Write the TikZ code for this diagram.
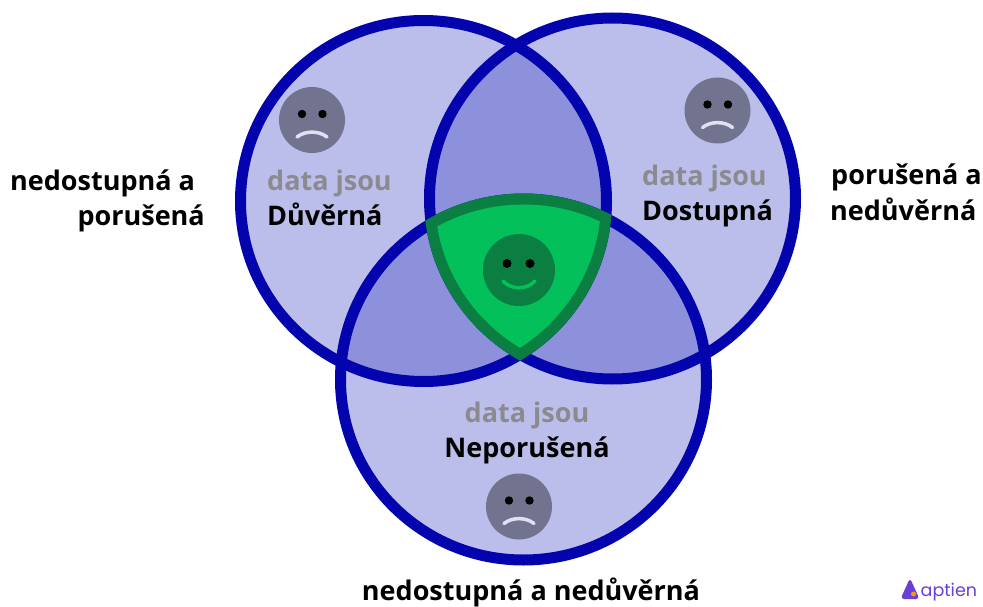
\documentclass[tikz,border=0pt]{standalone}
\usepackage{fontspec}
\setmainfont{Open Sans}
\newfontfamily\logofont{Poppins}
\usetikzlibrary{positioning, shapes.geometric}
\definecolor{ringblue}{HTML}{0404AE}
\definecolor{fillsingle}{HTML}{BBBEEA}
\definecolor{filldouble}{HTML}{8D91DB}
\definecolor{greenfill}{HTML}{03C05B}
\definecolor{greenring}{HTML}{0B7E42}
\definecolor{facegray}{HTML}{72748F}
\definecolor{mouthlight}{HTML}{DFE1F3}
\definecolor{textgray}{HTML}{8B8B8F}
\definecolor{logoviolet}{HTML}{6A3FD6}
\tikzset{
	font={\bfseries\fontsize{27}{30}\selectfont},
	ring/.style = {ellipse, minimum width=366pt, minimum height=361pt, inner sep=0, outer sep=0, draw=ringblue, line width=11pt},
	lead/.style = {text=textgray, inner sep=0},
	word/.style = {text=black, inner sep=0},
	outer/.style = {text=black, inner sep=0},
	sadface/.pic = {
		\fill[facegray] (0,0) circle (33);
		\fill[black] (-10,-6) circle (4.2) (10.5,-6) circle (4.2);
		\draw[mouthlight, line width=3.5pt, line cap=round] (-15,17) .. controls (-7,10.5) and (7,10.5) .. (15,17);
	},
	gladface/.pic = {
		\fill[greenring] (0,0) circle (36);
		\fill[black] (-12,-6.5) circle (4.5) (11,-6.5) circle (4.5);
		\draw[greenfill, line width=3.5pt, line cap=round] (-16,11) .. controls (-8,20) and (8,20) .. (16,11);
	}
}

\begin{document}
\begin{tikzpicture}[x=1pt, y=-1pt]
\useasboundingbox (0,0) rectangle (983,607);

% circles
\fill[fillsingle] (423.5,201) ellipse (183 and 180.5);
\fill[fillsingle] (612.5,198.5) ellipse (183 and 180.5);
\fill[fillsingle] (523.5,379.5) ellipse (183 and 180.5);
% overlaps
\begin{scope}
	\clip (423.5,201) ellipse (183 and 180.5);
	\fill[filldouble] (612.5,198.5) ellipse (183 and 180.5);
	\fill[filldouble] (523.5,379.5) ellipse (183 and 180.5);
\end{scope}
\begin{scope}
	\clip (612.5,198.5) ellipse (183 and 180.5);
	\fill[filldouble] (523.5,379.5) ellipse (183 and 180.5);
\end{scope}
\node[ring] (duverna) at (423.5,201) {};
\node[ring] (dostupna) at (612.5,198.5) {};
\node[ring] (neporusena) at (523.5,379.5) {};
% middle part
\begin{scope}
	\clip (423.5,201) ellipse (188.5 and 186);
	\clip (612.5,198.5) ellipse (188.5 and 186);
	\fill[greenring] (523.5,379.5) ellipse (188.5 and 186);
\end{scope}
\begin{scope}
	\clip (423.5,201) ellipse (177.5 and 175);
	\clip (612.5,198.5) ellipse (177.5 and 175);
	\fill[greenfill] (523.5,379.5) ellipse (177.5 and 175);
\end{scope}

\pic at (312,120) {sadface};
\pic at (717.5,110.5) {sadface};
\pic at (519,506.5) {sadface};
\pic at (519,270) {gladface};

% labels
\node[lead, anchor=base west] (datad) at (267,190) {data jsou};
\node[word, anchor=base west, yshift=-35pt] (wordd) at (datad.base west) {Důvěrná};
\node[lead, anchor=base west] (datab) at (642,185.5) {data jsou};
\node[word, anchor=base west, yshift=-35pt] (wordb) at (datab.base west) {Dostupná};
\node[lead, anchor=base] (datan) at (527,422) {data jsou};
\node[word, anchor=base, yshift=-35pt] (wordn) at (datan.base) {Neporušená};

\node[outer, anchor=base west] (leftone) at (10,190) {nedostupná a};
\node[outer, anchor=base east] (lefttwo) at (205,225) {porušená};
\node[outer, anchor=base west] (rightone) at (831,185) {porušená a};
\node[outer, anchor=base west] (righttwo) at (830,220) {nedůvěrná};
\node[outer, anchor=base] (bottomtext) at (531,600) {nedostupná a nedůvěrná};

% logo
\node[inner sep=0, text=logoviolet, font={\logofont\fontsize{17.5}{20}\selectfont}, anchor=base west] (logotext) at (920.5,596) {aptien};
\fill[logoviolet, rounded corners=3.5pt] (900.5,599) -- (910,578) -- (919.5,599) -- cycle;
\fill[orange!80!yellow] (913.5,594) circle (2.5);
\end{tikzpicture}
\end{document}
